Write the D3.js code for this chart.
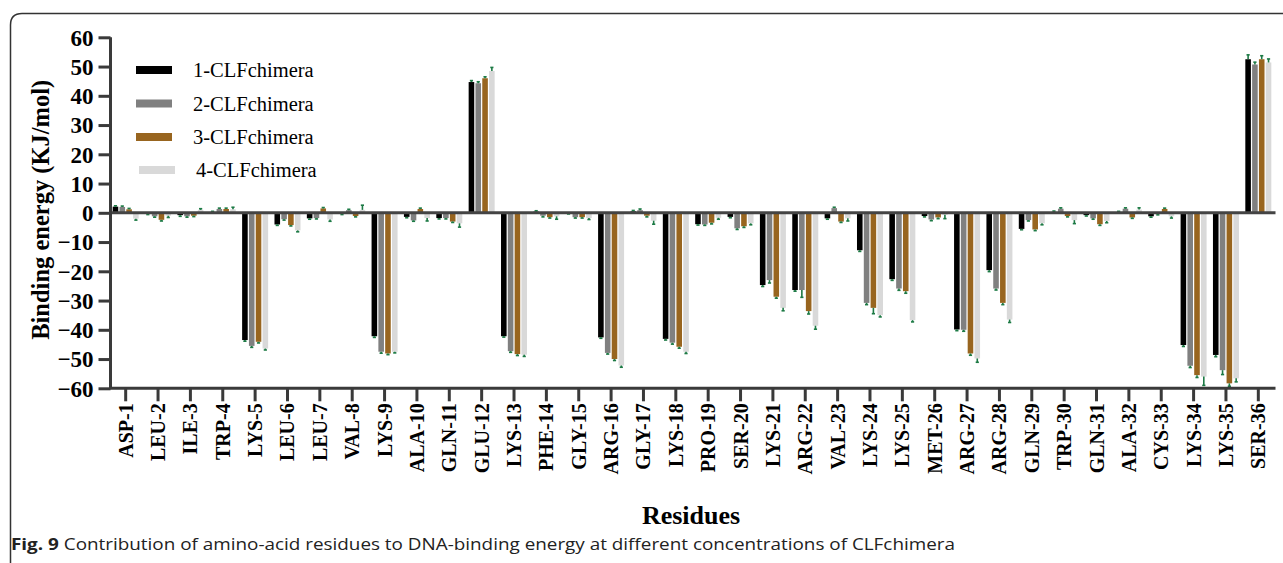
<!DOCTYPE html>
<html>
<head>
<meta charset="utf-8">
<script src="https://cdn.jsdelivr.net/npm/d3@7"></script>
<style>
  html, body { margin: 0; padding: 0; background: #fff; }
  svg { display: block; }
</style>
</head>
<body>
<svg id="chart" width="1283" height="563"></svg>
<script>
// Residues along the peptide
const residues = ["ASP-1","LEU-2","ILE-3","TRP-4","LYS-5","LEU-6","LEU-7","VAL-8","LYS-9","ALA-10",
  "GLN-11","GLU-12","LYS-13","PHE-14","GLY-15","ARG-16","GLY-17","LYS-18","PRO-19","SER-20",
  "LYS-21","ARG-22","VAL-23","LYS-24","LYS-25","MET-26","ARG-27","ARG-28","GLN-29","TRP-30",
  "GLN-31","ALA-32","CYS-33","LYS-34","LYS-35","SER-36"];

const seriesNames = ["1-CLFchimera","2-CLFchimera","3-CLFchimera","4-CLFchimera"];

// Binding energy per residue (KJ/mol)
const clf1 = [2.1,-0.3,-0.8,0.3,-43.5,-4.0,-1.9,-0.3,-42.2,-1.4,-1.8,44.7,-42.2,0.4,-0.2,-42.6,0.5,-43.1,-3.9,-1.4,
  -24.7,-26.4,-1.9,-12.8,-22.7,-1.1,-39.9,-19.6,-5.5,0.3,-0.8,0.2,-1.2,-45.2,-48.6,52.5];
const clf2 = [2.0,-1.2,-1.2,1.3,-45.5,-2.2,-1.8,0.9,-47.5,-2.6,-1.8,44.3,-47.3,-1.0,-1.5,-47.9,0.9,-44.4,-4.0,-5.3,
  -23.0,-26.4,1.6,-30.8,-25.9,-2.3,-40.0,-25.9,-2.5,1.4,-1.9,1.4,-0.4,-52.3,-53.8,50.7];
const clf3 = [1.2,-2.4,-1.0,1.3,-44.1,-4.2,1.5,-1.1,-48.1,1.3,-3.0,46.0,-48.3,-1.5,-1.5,-50.0,-1.0,-45.8,-3.4,-4.6,
  -28.7,-33.6,-3.0,-32.5,-26.8,-1.6,-48.1,-30.8,-5.7,-1.1,-3.9,-1.6,1.3,-55.5,-58.3,52.5];
const clf4 = [-2.0,-1.0,1.0,1.2,-46.4,-6.0,-2.3,1.0,-47.5,-1.8,-3.6,48.5,-48.5,-1.2,-1.8,-52.2,-2.7,-47.5,-1.7,-3.6,
  -32.5,-38.6,-1.9,-35.0,-36.7,-0.7,-49.8,-36.5,-3.6,-2.5,-2.8,1.1,-1.2,-56.0,-56.6,51.4];

// Standard errors
const err1 = [0.3,0.3,0.4,0.2,0.4,0.3,0.3,0.3,0.4,0.3,0.3,0.5,0.3,0.3,0.2,0.3,0.3,0.4,0.3,0.3,
  0.5,0.4,0.3,0.4,0.4,0.3,0.4,0.5,0.3,0.3,0.3,0.3,0.3,0.5,0.6,1.5];
const err2 = [0.3,0.3,0.3,0.3,0.5,0.3,0.3,0.3,0.5,0.3,0.3,0.5,0.4,0.4,0.3,0.4,0.4,0.5,0.3,0.4,
  1.0,2.5,0.3,0.6,0.6,0.4,0.5,0.5,0.3,0.3,0.3,0.3,0.3,0.6,1.5,0.8];
const err3 = [0.3,0.4,0.3,0.3,0.4,0.3,0.3,0.3,0.4,0.3,0.3,0.5,0.5,0.3,0.3,0.5,0.4,0.5,0.4,0.4,
  0.5,1.0,0.3,2.0,0.7,0.4,0.6,0.6,0.4,0.3,0.4,0.3,0.3,0.8,1.0,1.2];
const err4 = [0.5,0.6,0.4,0.7,0.5,0.5,0.6,1.6,0.4,1.0,1.3,1.2,0.6,1.0,0.5,0.6,1.2,0.6,0.5,0.5,
  1.0,1.2,0.9,0.6,0.6,1.3,1.3,1.0,0.5,1.2,0.6,0.6,0.6,3.0,1.2,1.2];

const yTicks = [60,50,40,30,20,10,0,-10,-20,-30,-40,-50,-60];

const colors = ["#000000","#808080","#98651f","#d9d9d9"];
const errColor = "#1d7a45";
const axisColor = "#3a3a3a";
const serif = "'Liberation Serif', 'Times New Roman', serif";

const values = [clf1, clf2, clf3, clf4];
const errors = [err1, err2, err3, err4];

const rows = [];
residues.forEach((r, i) => {
  seriesNames.forEach((s, j) => {
    rows.push({ residue: r, series: s, si: j, value: values[j][i], err: errors[j][i] });
  });
});

const svg = d3.select("#chart");

// Outer frame of the figure panel
svg.append("path")
  .attr("d", "M10.5,563 L10.5,25 Q10.5,13.5 22,13.5 L1283,13.5")
  .attr("fill", "none").attr("stroke", "#333").attr("stroke-width", 1.5);

const x = d3.scaleBand().domain(residues).range([109.5, 1274.5]).paddingInner(0).paddingOuter(0);
const xs = d3.scaleBand().domain(seriesNames).range([-13, 13]).paddingInner(0.18).paddingOuter(0);
const y = d3.scaleLinear().domain([-60, 60]).range([388.3, 37.3]);

const plot = svg.append("g");

// Bars
plot.selectAll("rect.bar").data(rows).enter().append("rect")
  .attr("class", "bar")
  .attr("x", d => x(d.residue) + x.bandwidth() / 2 + xs(d.series))
  .attr("width", xs.bandwidth())
  .attr("y", d => y(Math.max(0, d.value)))
  .attr("height", d => Math.abs(y(d.value) - y(0)))
  .attr("fill", d => colors[d.si]);

// Error bars (outward from the bar end)
const eb = plot.selectAll("g.err").data(rows).enter().append("g").attr("class", "err");
const cx = d => x(d.residue) + x.bandwidth() / 2 + xs(d.series) + xs.bandwidth() / 2;
const tip = d => d.value >= 0 ? d.value + d.err : d.value - d.err;
eb.append("line")
  .attr("x1", cx).attr("x2", cx)
  .attr("y1", d => y(d.value)).attr("y2", d => y(tip(d)))
  .attr("stroke", errColor).attr("stroke-width", 1.6);
eb.append("line")
  .attr("x1", d => cx(d) - 1.6).attr("x2", d => cx(d) + 1.6)
  .attr("y1", d => y(tip(d))).attr("y2", d => y(tip(d)))
  .attr("stroke", errColor).attr("stroke-width", 1.6);

// Zero reference line
plot.append("line")
  .attr("x1", x.range()[0]).attr("x2", x.range()[1] + 1)
  .attr("y1", y(0)).attr("y2", y(0))
  .attr("stroke", "#444").attr("stroke-width", 3);

// Y axis
const yAxis = svg.append("g")
  .attr("transform", `translate(${x.range()[0] + 1},0)`)
  .call(d3.axisLeft(y).tickValues(yTicks).tickSize(12).tickPadding(5).tickFormat(d3.format("d")));
yAxis.select(".domain").attr("stroke", axisColor).attr("stroke-width", 3)
  .attr("d", `M0,${y(60)}V${y(-60)}`);
yAxis.selectAll(".tick line").attr("stroke", axisColor).attr("stroke-width", 3);
yAxis.selectAll(".tick text")
  .attr("fill", "#000").attr("font-family", serif)
  .attr("font-weight", "bold").attr("font-size", 23)
  .attr("dy", "0.34em");

// X axis
const xAxis = svg.append("g")
  .attr("transform", `translate(0,${y(-60)})`)
  .call(d3.axisBottom(x).tickSize(13).tickPadding(6));
xAxis.select(".domain").attr("stroke", axisColor).attr("stroke-width", 3)
  .attr("d", `M${x.range()[0]},0H${x.range()[1] + 1}`);
xAxis.selectAll(".tick line").attr("stroke", axisColor).attr("stroke-width", 3);
xAxis.selectAll(".tick text")
  .attr("fill", "#000").attr("font-family", serif)
  .attr("font-weight", "bold").attr("font-size", 20)
  .attr("text-anchor", "end")
  .attr("transform", "translate(0,15) rotate(-90)")
  .attr("x", 0).attr("y", 0).attr("dx", 0).attr("dy", "0.35em");

// Axis titles
svg.append("text")
  .attr("transform", `translate(49,${y(0) - 3}) rotate(-90)`)
  .attr("text-anchor", "middle")
  .attr("font-family", serif)
  .attr("font-weight", "bold").attr("font-size", 24.5)
  .text("Binding energy (KJ/mol)");

svg.append("text")
  .attr("x", 691).attr("y", 524)
  .attr("text-anchor", "middle")
  .attr("font-family", serif)
  .attr("font-weight", "bold").attr("font-size", 26)
  .text("Residues");

// Legend
const legendY = [70, 103.5, 137, 170];
const legend = svg.append("g");
seriesNames.forEach((s, j) => {
  legend.append("rect")
    .attr("x", j === 3 ? 139 : 136).attr("y", legendY[j] - 4)
    .attr("width", 36).attr("height", 8)
    .attr("fill", colors[j]);
  legend.append("text")
    .attr("x", j === 3 ? 196 : 193).attr("y", legendY[j])
    .attr("dy", "0.35em")
    .attr("font-family", serif)
    .attr("font-size", 20.5)
    .text(s);
});

// Caption
const cap = svg.append("text")
  .attr("x", 11).attr("y", 550)
  .attr("font-family", "'Open Sans', 'Noto Sans', sans-serif")
  .attr("font-size", 16).attr("fill", "#222");
cap.append("tspan").attr("font-weight", "bold").text("Fig. 9");
cap.append("tspan").text(" Contribution of amino-acid residues to DNA-binding energy at different concentrations of CLFchimera");
cap.attr("textLength", 944).attr("lengthAdjust", "spacingAndGlyphs");
</script>
</body>
</html>
